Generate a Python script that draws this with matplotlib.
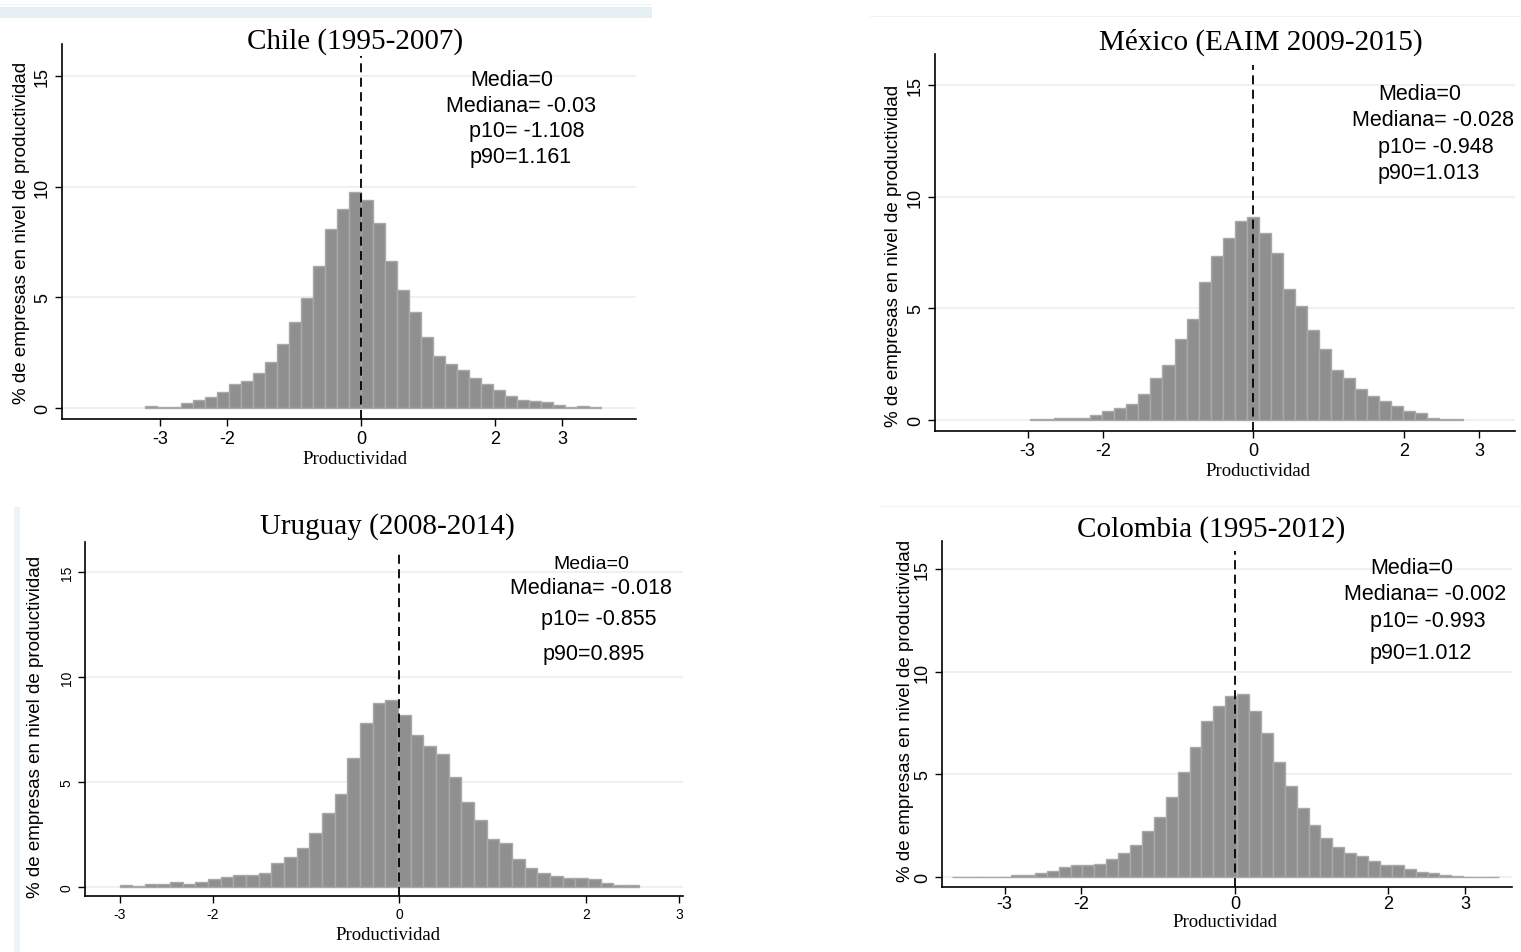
import numpy as np
import matplotlib
matplotlib.use("Agg")
import matplotlib.pyplot as plt
from matplotlib.patches import Rectangle

# ---------------- data ----------------
titles = ["Chile (1995-2007)", "México (EAIM 2009-2015)",
          "Uruguay (2008-2014)", "Colombia (1995-2012)"]

chile_heights = [0.08, 0.03, 0.03, 0.23, 0.38, 0.50, 0.72, 1.07, 1.22, 1.57,
                 2.06, 2.91, 3.90, 4.95, 6.43, 8.08, 8.99, 9.77, 9.38, 8.35,
                 6.65, 5.32, 4.33, 3.19, 2.35, 2.00, 1.72, 1.36, 1.07, 0.81,
                 0.56, 0.35, 0.30, 0.27, 0.15, 0.06, 0.08, 0.03]
chile_bin_start, chile_bin_width = -3.22, 0.179

mexico_heights = [0.04, 0.04, 0.10, 0.10, 0.10, 0.24, 0.40, 0.52, 0.73, 1.15,
                  1.89, 2.46, 3.62, 4.51, 6.18, 7.35, 8.17, 8.93, 9.08, 8.39,
                  7.50, 5.89, 5.09, 4.03, 3.20, 2.23, 1.89, 1.41, 1.07, 0.86,
                  0.65, 0.39, 0.30, 0.09, 0.04, 0.04]
mexico_bin_start, mexico_bin_width = -2.966, 0.160

uruguay_heights = [0.10, 0.05, 0.14, 0.14, 0.24, 0.16, 0.24, 0.38, 0.46, 0.59,
                   0.59, 0.67, 1.13, 1.41, 1.86, 2.59, 3.54, 4.43, 6.13, 7.83,
                   8.78, 8.92, 8.19, 7.24, 6.71, 6.33, 5.24, 4.06, 3.19, 2.30,
                   2.10, 1.33, 0.90, 0.68, 0.54, 0.44, 0.44, 0.40, 0.17, 0.10,
                   0.08]
uruguay_bin_start, uruguay_bin_width = -3.0, 0.1357

colombia_heights = [0.02, 0.02, 0.02, 0.02, 0.02, 0.10, 0.10, 0.18, 0.31, 0.47,
                    0.56, 0.56, 0.64, 0.87, 1.18, 1.55, 2.24, 2.91, 3.91, 5.10,
                    6.32, 7.61, 8.35, 8.81, 8.91, 8.07, 6.99, 5.62, 4.43, 3.37,
                    2.53, 1.91, 1.45, 1.16, 1.00, 0.77, 0.60, 0.60, 0.39, 0.26,
                    0.18, 0.08, 0.03, 0.02, 0.02, 0.02]
colombia_bin_start, colombia_bin_width = -3.69, 0.155

stats_text = [
    ["Media=0", "Mediana= -0.03", "p10= -1.108", "p90=1.161"],
    ["Media=0", "Mediana= -0.028", "p10= -0.948", "p90=1.013"],
    ["Media=0", "Mediana= -0.018", "p10= -0.855", "p90=0.895"],
    ["Media=0", "Mediana= -0.002", "p10= -0.993", "p90=1.012"],
]
x_ticks = [-3, -2, 0, 2, 3]
y_ticks = [0, 5, 10, 15]
mean_value = 0
ylabel_text = "% de empresas en nivel de productividad"
xlabel_text = "Productividad"

# ---------------- layout ----------------
W, H = 1521, 953
fig = plt.figure(figsize=(W / 100, H / 100), dpi=100)
fig.patch.set_facecolor("white")

def fx(px):
    return px / W

def fy(py):
    return 1 - py / H

# faint screenshot decorations
fig.add_artist(Rectangle((fx(0), fy(19)), fx(652), 11 / H, transform=fig.transFigure,
                         facecolor="#e6eff3", edgecolor="none", zorder=0))
fig.add_artist(Rectangle((fx(0), fy(6)), fx(652), 1.5 / H, transform=fig.transFigure,
                         facecolor="#eef4f6", edgecolor="none", zorder=0))
fig.add_artist(Rectangle((fx(14), fy(953)), 6 / W, 445 / H, transform=fig.transFigure,
                         facecolor="#edf3f6", edgecolor="none", zorder=0))
fig.add_artist(Rectangle((fx(870), fy(18)), fx(651), 1.5 / H, transform=fig.transFigure,
                         facecolor="#eef3f5", edgecolor="none", zorder=0))
fig.add_artist(Rectangle((fx(880), fy(508)), fx(641), 1.5 / H, transform=fig.transFigure,
                         facecolor="#eef3f5", edgecolor="none", zorder=0))

panels = [
    dict(heights=chile_heights, start=chile_bin_start, width=chile_bin_width,
         rect=(62, 636, 45, 420), xlim=(-4.46, 4.10), ylim=(-0.5, 16.45),
         title_xy=(355, 42), xlabel_xy=(355, 460), ylabel_xy=(22, 233),
         stats_x=[470, 446, 469, 470], stats_y=[81, 107, 132, 158],
         stats_fs=[15.5, 15.5, 15.5, 15.5], tick_fs=13, xpad=3),
    dict(heights=mexico_heights, start=mexico_bin_start, width=mexico_bin_width,
         rect=(935, 1515, 55, 432), xlim=(-4.23, 3.48), ylim=(-0.49, 16.39),
         title_xy=(1261, 42), xlabel_xy=(1258, 472), ylabel_xy=(893, 256),
         stats_x=[1378, 1352, 1378, 1378], stats_y=[94, 121, 148, 174],
         stats_fs=[15.5, 15.5, 15.5, 15.5], tick_fs=13, xpad=3),
    dict(heights=uruguay_heights, start=uruguay_bin_start, width=uruguay_bin_width,
         rect=(85, 683, 543, 897), xlim=(-3.37, 3.04), ylim=(-0.43, 16.43),
         title_xy=(387, 527), xlabel_xy=(388, 936), ylabel_xy=(36, 727),
         stats_x=[553, 510, 541, 543], stats_y=[565, 589, 620, 655],
         stats_fs=[14, 15.5, 15.5, 15.5], tick_fs=10, xpad=3),
    dict(heights=colombia_heights, start=colombia_bin_start, width=colombia_bin_width,
         rect=(942, 1512, 542, 888), xlim=(-3.815, 3.61), ylim=(-0.49, 16.37),
         title_xy=(1211, 530), xlabel_xy=(1225, 923), ylabel_xy=(905, 711),
         stats_x=[1370, 1344, 1370, 1370], stats_y=[568, 594, 621, 654],
         stats_fs=[15.5, 15.5, 15.5, 15.5], tick_fs=13, xpad=1),
]

serif = "Liberation Serif"
sans = "Liberation Sans"

for p, title, stats in zip(panels, titles, stats_text):
    l, r, t, b = p["rect"]
    ax = fig.add_axes([fx(l), fy(b), (r - l) / W, (b - t) / H])
    ax.set_facecolor("none")
    heights = np.array(p["heights"])
    edges = p["start"] + p["width"] * np.arange(len(heights))
    ax.bar(edges, heights, width=p["width"], align="edge",
           facecolor="#8f8f8f", edgecolor="#a9a9a9", linewidth=1.0, zorder=2)
    ax.axvline(mean_value, ymin=0, ymax=(15.9 - p["ylim"][0]) / (p["ylim"][1] - p["ylim"][0]),
               color="black", linestyle=(0, (5, 3)), linewidth=1.3, zorder=3)
    ax.set_xlim(*p["xlim"])
    ax.set_ylim(*p["ylim"])
    ax.set_xticks(x_ticks)
    ax.set_yticks(y_ticks)
    ax.set_xticklabels([str(v) for v in x_ticks], fontfamily=sans)
    ax.set_yticklabels([str(v) for v in y_ticks], rotation=90, va="center",
                       fontfamily=sans)
    ax.yaxis.grid(True, color="#e8f0f2", linewidth=1.2, zorder=0)
    ax.set_axisbelow(True)
    for s in ["top", "right"]:
        ax.spines[s].set_visible(False)
    for s in ["left", "bottom"]:
        ax.spines[s].set_linewidth(1.2)
        ax.spines[s].set_color("black")
    ax.tick_params(axis="both", direction="out", length=5, width=1,
                   labelsize=p["tick_fs"], colors="black")
    ax.tick_params(axis="y", pad=3)
    ax.tick_params(axis="x", pad=p["xpad"])

    fig.text(fx(p["title_xy"][0]), fy(p["title_xy"][1]), title,
             ha="center", va="center", fontsize=21, fontfamily=serif)
    fig.text(fx(p["xlabel_xy"][0]), fy(p["xlabel_xy"][1]), xlabel_text,
             ha="center", va="center", fontsize=13.5, fontfamily=serif)
    fig.text(fx(p["ylabel_xy"][0]), fy(p["ylabel_xy"][1]), ylabel_text,
             ha="center", va="center", rotation=90, fontsize=13.5, fontfamily=sans)
    for sx, sy, fs, line in zip(p["stats_x"], p["stats_y"], p["stats_fs"], stats):
        fig.text(fx(sx), fy(sy), line, ha="left", va="center",
                 fontsize=fs, fontfamily=sans)

fig.savefig("out.png", dpi=100, facecolor="white")
